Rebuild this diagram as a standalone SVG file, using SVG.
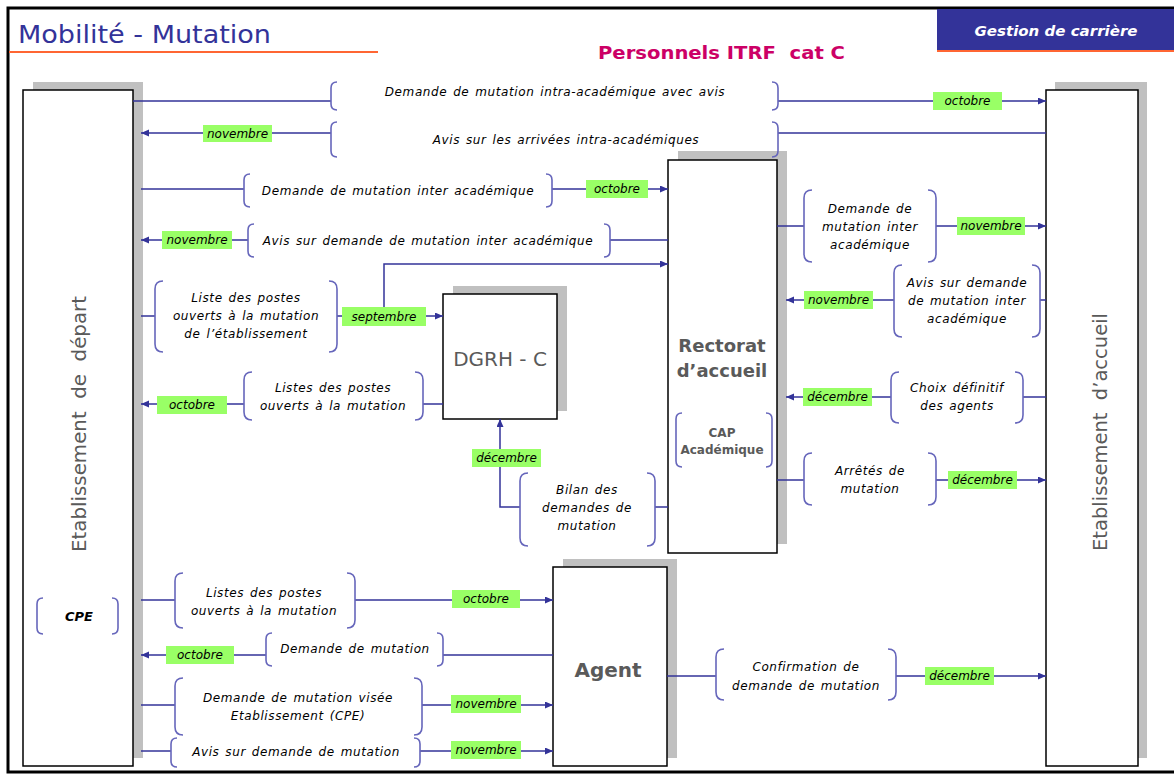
<svg xmlns="http://www.w3.org/2000/svg" width="1174" height="776" viewBox="0 0 1174 776">
  <defs>
    <marker id="arrow" markerWidth="9" markerHeight="8" refX="8" refY="3.5" orient="auto" markerUnits="userSpaceOnUse">
      <path d="M0,0 L8,3.5 L0,7 z" fill="#333399"/>
    </marker>
    <style>
      .frame { fill: #ffffff; stroke: #000000; stroke-width: 3; }
      .shadow { fill: #c0c0c0; }
      .box { fill: #ffffff; stroke: #000000; stroke-width: 1.5; }
      .wire { fill: none; stroke: #333399; stroke-width: 1.5; }
      .arrow { marker-end: url(#arrow); }
      .brk { fill: none; stroke: #6666bb; stroke-width: 1.6; }
      .tag { fill: #99ff66; }
      .tagt { font-family: "DejaVu Sans", sans-serif; font-style: italic; font-size: 12px; fill: #000; text-anchor: middle; }
      .txt { font-family: "DejaVu Sans", sans-serif; font-style: italic; font-size: 12px; fill: #000; text-anchor: middle; letter-spacing: 0.6px; word-spacing: 1.5px; }
      .node { font-family: "DejaVu Sans", sans-serif; fill: #5a5a5a; text-anchor: middle; }
    </style>
  </defs>

  <!-- page frame and headers -->
  <rect class="frame" x="8" y="8" width="1180" height="764"/>
  <text x="18" y="43" font-family="'DejaVu Sans', sans-serif" font-size="24" fill="#333399" textLength="253" lengthAdjust="spacingAndGlyphs">Mobilité - Mutation</text>
  <line x1="9" y1="52" x2="378" y2="52" stroke="#ff6633" stroke-width="2"/>
  <rect x="937" y="9" width="237" height="41" fill="#333399"/>
  <line x1="937" y1="51" x2="1174" y2="51" stroke="#ff6633" stroke-width="2"/>
  <text x="1056" y="36" font-family="'DejaVu Sans', sans-serif" font-size="14" font-weight="bold" font-style="italic" fill="#ffffff" text-anchor="middle" textLength="163" lengthAdjust="spacingAndGlyphs">Gestion de carrière</text>
  <text x="598" y="59" font-family="'DejaVu Sans', sans-serif" font-size="18" font-weight="bold" fill="#cc0066" textLength="247" lengthAdjust="spacingAndGlyphs" xml:space="preserve">Personnels ITRF  cat C</text>

  <!-- Etablissement de départ -->
  <g id="etab-depart">
    <rect class="shadow" x="33" y="82" width="110" height="676"/>
    <rect class="box" x="23" y="90" width="110" height="676"/>
    <text class="node" transform="translate(86,424) rotate(-90)" font-family="'Liberation Sans', sans-serif" font-size="19" textLength="256" lengthAdjust="spacingAndGlyphs" xml:space="preserve">Etablissement  de  départ</text>
    <path class="brk" d="M43,598 Q37,598 37,604 V628 Q37,634 43,634 M112,598 Q118,598 118,604 V628 Q118,634 112,634"/>
    <text x="79" y="621" font-family="'DejaVu Sans', sans-serif" font-size="13" font-weight="bold" font-style="italic" fill="#000" text-anchor="middle">CPE</text>
  </g>

  <!-- Etablissement d'accueil -->
  <g id="etab-accueil">
    <rect class="shadow" x="1055" y="82" width="92" height="676"/>
    <rect class="box" x="1046" y="90" width="92" height="676"/>
    <text class="node" transform="translate(1107,432) rotate(-90)" font-family="'Liberation Sans', sans-serif" font-size="19" textLength="238" lengthAdjust="spacingAndGlyphs" xml:space="preserve">Etablissement  d’accueil</text>
  </g>

  <!-- Rectorat d'accueil -->
  <g id="rectorat">
    <rect class="shadow" x="678" y="151" width="109" height="393"/>
    <rect class="box" x="668" y="160" width="109" height="393"/>
    <text class="node" x="722" y="352" font-size="18" font-weight="bold">Rectorat</text>
    <text class="node" x="722" y="377" font-size="18" font-weight="bold">d’accueil</text>
    <path class="brk" d="M682,413 Q676,413 676,419 V461 Q676,467 682,467 M766,413 Q772,413 772,419 V461 Q772,467 766,467"/>
    <text class="node" x="722" y="437" font-size="12" font-weight="bold">CAP</text>
    <text class="node" x="722" y="454" font-size="12" font-weight="bold">Académique</text>
  </g>

  <!-- DGRH - C -->
  <g id="dgrh">
    <rect class="shadow" x="453" y="286" width="114" height="125"/>
    <rect class="box" x="443" y="294" width="114" height="125"/>
    <text class="node" x="500" y="366" font-family="'Liberation Sans', sans-serif" font-size="20" fill="#444">DGRH - C</text>
  </g>

  <!-- Agent -->
  <g id="agent">
    <rect class="shadow" x="563" y="559" width="114" height="199"/>
    <rect class="box" x="553" y="567" width="114" height="199"/>
    <text class="node" x="608" y="677" font-family="'Liberation Sans', sans-serif" font-size="20" font-weight="bold">Agent</text>
  </g>

  <!-- flows between the services -->
  <g id="connectors">
    <!-- lines -->
    <path class="wire" d="M133,101 H331"/>
    <path class="wire arrow" d="M778,101 H1046"/>
    <path class="wire" d="M1046,133 H778"/>
    <path class="wire arrow" d="M331,133 H141"/>
    <path class="wire" d="M141,189 H244"/>
    <path class="wire arrow" d="M552,189 H668"/>
    <path class="wire" d="M668,240 H610"/>
    <path class="wire arrow" d="M248,240 H141"/>
    <path class="wire arrow" d="M384,308 V264 H668"/>
    <path class="wire" d="M141,316 H155"/>
    <path class="wire arrow" d="M337,316 H443"/>
    <path class="wire" d="M443,404 H423"/>
    <path class="wire arrow" d="M244,404 H141"/>
    <path class="wire arrow" d="M520,507 H500 V419"/>
    <path class="wire" d="M655,507 H668"/>
    <path class="wire" d="M777,226 H804"/>
    <path class="wire arrow" d="M936,226 H1046"/>
    <path class="wire" d="M1046,300 H1040"/>
    <path class="wire arrow" d="M894,300 H786"/>
    <path class="wire" d="M1046,397 H1023"/>
    <path class="wire arrow" d="M891,397 H786"/>
    <path class="wire" d="M777,480 H804"/>
    <path class="wire arrow" d="M936,480 H1046"/>
    <path class="wire" d="M141,600 H175"/>
    <path class="wire arrow" d="M355,600 H553"/>
    <path class="wire" d="M553,655 H443"/>
    <path class="wire arrow" d="M266,655 H141"/>
    <path class="wire" d="M141,705 H175"/>
    <path class="wire arrow" d="M422,705 H553"/>
    <path class="wire" d="M141,751 H171"/>
    <path class="wire arrow" d="M420,751 H553"/>
    <path class="wire" d="M667,676 H716"/>
    <path class="wire arrow" d="M896,676 H1046"/>

    <!-- bracketed document labels -->
    <path class="brk" d="M337,82 Q331,82 331,88 V104 Q331,110 337,110 M772,82 Q778,82 778,88 V104 Q778,110 772,110"/>
    <text class="txt" x="555" y="96">Demande de mutation intra-académique avec avis</text>
    <path class="brk" d="M337,122 Q331,122 331,128 V151 Q331,157 337,157 M772,122 Q778,122 778,128 V151 Q778,157 772,157"/>
    <text class="txt" x="566" y="144">Avis sur les arrivées intra-académiques</text>
    <path class="brk" d="M250,174 Q244,174 244,180 V201 Q244,207 250,207 M546,174 Q552,174 552,180 V201 Q552,207 546,207"/>
    <text class="txt" x="398" y="195">Demande de mutation inter académique</text>
    <path class="brk" d="M254,224 Q248,224 248,230 V251 Q248,257 254,257 M604,224 Q610,224 610,230 V251 Q610,257 604,257"/>
    <text class="txt" x="428" y="245">Avis sur demande de mutation inter académique</text>
    <path class="brk" d="M163,281 Q155,281 155,289 V344 Q155,352 163,352 M329,281 Q337,281 337,289 V344 Q337,352 329,352"/>
    <text class="txt" x="246" y="302">Liste des postes</text>
    <text class="txt" x="246" y="320">ouverts à la mutation</text>
    <text class="txt" x="246" y="338">de l’établissement</text>
    <path class="brk" d="M252,372 Q244,372 244,380 V412 Q244,420 252,420 M415,372 Q423,372 423,380 V412 Q423,420 415,420"/>
    <text class="txt" x="333" y="392">Listes des postes</text>
    <text class="txt" x="333" y="410">ouverts à la mutation</text>
    <path class="brk" d="M528,473 Q520,473 520,481 V538 Q520,546 528,546 M647,473 Q655,473 655,481 V538 Q655,546 647,546"/>
    <text class="txt" x="587" y="494">Bilan des</text>
    <text class="txt" x="587" y="512">demandes de</text>
    <text class="txt" x="587" y="530">mutation</text>
    <path class="brk" d="M812,190 Q804,190 804,198 V254 Q804,262 812,262 M928,190 Q936,190 936,198 V254 Q936,262 928,262"/>
    <text class="txt" x="870" y="213">Demande de</text>
    <text class="txt" x="870" y="231">mutation inter</text>
    <text class="txt" x="870" y="249">académique</text>
    <path class="brk" d="M902,265 Q894,265 894,273 V329 Q894,337 902,337 M1032,265 Q1040,265 1040,273 V329 Q1040,337 1032,337"/>
    <text class="txt" x="967" y="287">Avis sur demande</text>
    <text class="txt" x="967" y="305">de mutation inter</text>
    <text class="txt" x="967" y="323">académique</text>
    <path class="brk" d="M899,372 Q891,372 891,380 V415 Q891,423 899,423 M1015,372 Q1023,372 1023,380 V415 Q1023,423 1015,423"/>
    <text class="txt" x="957" y="392">Choix définitif</text>
    <text class="txt" x="957" y="410">des agents</text>
    <path class="brk" d="M812,453 Q804,453 804,461 V497 Q804,505 812,505 M928,453 Q936,453 936,461 V497 Q936,505 928,505"/>
    <text class="txt" x="870" y="475">Arrêtés de</text>
    <text class="txt" x="870" y="493">mutation</text>
    <path class="brk" d="M183,573 Q175,573 175,581 V620 Q175,628 183,628 M347,573 Q355,573 355,581 V620 Q355,628 347,628"/>
    <text class="txt" x="264" y="597">Listes des postes</text>
    <text class="txt" x="264" y="615">ouverts à la mutation</text>
    <path class="brk" d="M272,633 Q266,633 266,639 V660 Q266,666 272,666 M437,633 Q443,633 443,639 V660 Q443,666 437,666"/>
    <text class="txt" x="355" y="653">Demande de mutation</text>
    <path class="brk" d="M183,678 Q175,678 175,686 V727 Q175,735 183,735 M414,678 Q422,678 422,686 V727 Q422,735 414,735"/>
    <text class="txt" x="298" y="702">Demande de mutation visée</text>
    <text class="txt" x="298" y="720">Etablissement (CPE)</text>
    <path class="brk" d="M177,738 Q171,738 171,744 V761 Q171,767 177,767 M414,738 Q420,738 420,744 V761 Q420,767 414,767"/>
    <text class="txt" x="296" y="756">Avis sur demande de mutation</text>
    <path class="brk" d="M724,649 Q716,649 716,657 V692 Q716,700 724,700 M888,649 Q896,649 896,657 V692 Q896,700 888,700"/>
    <text class="txt" x="806" y="671">Confirmation de</text>
    <text class="txt" x="806" y="690">demande de mutation</text>

    <!-- month tags -->
    <rect class="tag" x="933" y="92" width="69" height="18"/><text class="tagt" x="967.5" y="105">octobre</text>
    <rect class="tag" x="203" y="125" width="69" height="17"/><text class="tagt" x="237.5" y="138">novembre</text>
    <rect class="tag" x="586" y="180" width="62" height="18"/><text class="tagt" x="617" y="193">octobre</text>
    <rect class="tag" x="162" y="231" width="70" height="18"/><text class="tagt" x="197" y="244">novembre</text>
    <rect class="tag" x="342" y="307" width="84" height="19"/><text class="tagt" x="384" y="321">septembre</text>
    <rect class="tag" x="157" y="396" width="70" height="18"/><text class="tagt" x="192" y="409">octobre</text>
    <rect class="tag" x="472" y="449" width="69" height="18"/><text class="tagt" x="506.5" y="462">décembre</text>
    <rect class="tag" x="957" y="217" width="68" height="18"/><text class="tagt" x="991" y="230">novembre</text>
    <rect class="tag" x="804" y="291" width="69" height="18"/><text class="tagt" x="838.5" y="304">novembre</text>
    <rect class="tag" x="803" y="388" width="69" height="18"/><text class="tagt" x="837.5" y="401">décembre</text>
    <rect class="tag" x="948" y="471" width="69" height="18"/><text class="tagt" x="982.5" y="484">décembre</text>
    <rect class="tag" x="452" y="590" width="68" height="18"/><text class="tagt" x="486" y="603">octobre</text>
    <rect class="tag" x="166" y="646" width="68" height="18"/><text class="tagt" x="200" y="659">octobre</text>
    <rect class="tag" x="451" y="695" width="70" height="18"/><text class="tagt" x="486" y="708">novembre</text>
    <rect class="tag" x="451" y="741" width="70" height="18"/><text class="tagt" x="486" y="754">novembre</text>
    <rect class="tag" x="925" y="667" width="69" height="18"/><text class="tagt" x="959.5" y="680">décembre</text>
  </g>
</svg>
